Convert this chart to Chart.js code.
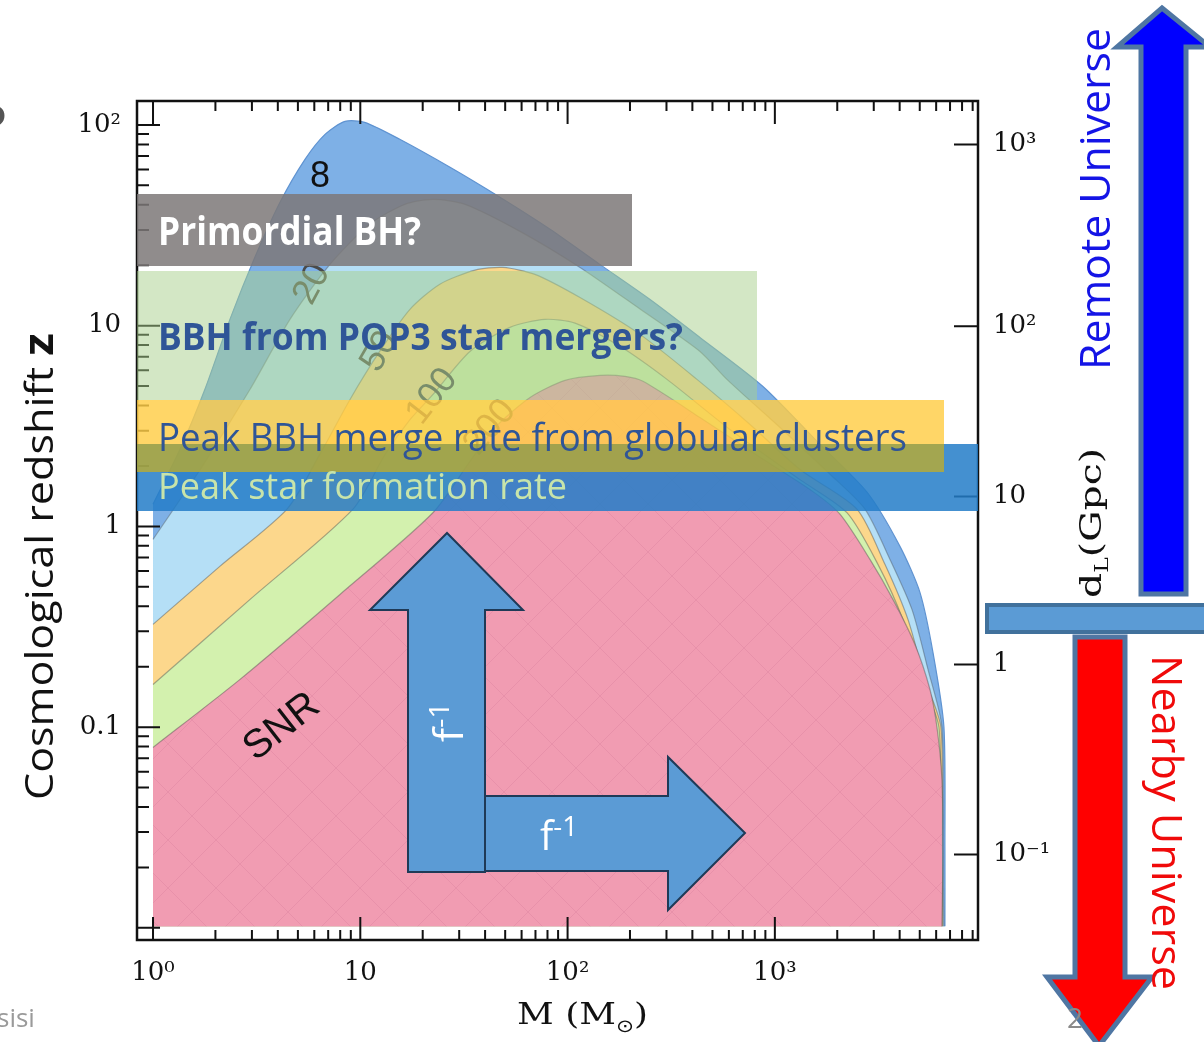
<!DOCTYPE html>
<html>
<head>
<meta charset="utf-8">
<script src="https://cdn.jsdelivr.net/npm/chart.js@4.4.1/dist/chart.umd.min.js"></script>
<style>
html, body { margin: 0; padding: 0; background: #fff; }
#wrap { position: relative; width: 1204px; height: 1042px; overflow: hidden; }
</style>
</head>
<body>
<div id="wrap"><canvas id="chart" width="1204" height="1042"></canvas></div>
<script>
// SNR contours: total mass (Msun) and redshift z along each contour
var snr8Mass = [1.0, 1.35, 1.78, 2.35, 3.10, 4.10, 5.41, 6.76, 8.44, 10.5, 15.5, 27.1, 47.2, 82.3, 143, 250, 435, 876, 1651, 2782, 4013, 5010, 5790, 6541, 6614, 6614];
var snr8Z = [1.29, 2.42, 4.82, 10.75, 21.9, 41.2, 67.4, 89.8, 104.2, 103, 84.8, 61.5, 43.6, 30.2, 20.2, 13.5, 8.74, 4.98, 2.56, 1.48, 0.795, 0.469, 0.236, 0.1, 0.0246, 0.0102];

var snr20Mass = [1.0, 1.69, 2.94, 4.58, 7.14, 11.1, 16.4, 22.4, 32.0, 58.9, 114.8, 223.5, 435, 587, 1058, 1845, 2720, 3592, 4585, 5478, 6397, 6469, 6541];
var snr20Z = [0.861, 1.92, 4.82, 10.75, 20.2, 32.0, 40.2, 42.6, 40.2, 29.5, 19.5, 12.1, 7.44, 5.40, 3.11, 1.82, 1.22, 0.685, 0.386, 0.194, 0.1, 0.0246, 0.0102];

var snr50Mass = [1.0, 2.10, 4.43, 6.39, 8.92, 12.4, 17.4, 24.2, 35.8, 48.8, 69.6, 114.8, 223.5, 421, 759, 1322, 2489, 3397, 4386, 5298, 6326, 6397, 6469];
var snr50Z = [0.325, 0.632, 1.22, 2.29, 4.29, 7.44, 12.1, 16.1, 18.9, 19.5, 18.0, 13.8, 9.05, 5.40, 3.22, 1.92, 1.22, 0.647, 0.344, 0.173, 0.1, 0.0246, 0.0102];

var snr100Mass = [1.0, 2.94, 9.22, 13.2, 17.4, 22.2, 33.8, 52.7, 77.8, 108.6, 178.9, 301.6, 607, 1322, 2227, 3143, 4148, 5123, 6188, 6326, 6397];
var snr100Z = [0.163, 0.433, 1.22, 2.29, 3.41, 4.49, 7.44, 9.81, 10.75, 10.3, 7.89, 5.40, 3.04, 1.71, 1.17, 0.647, 0.344, 0.173, 0.1, 0.0246, 0.0102];

var snr200Mass = [1.0, 2.63, 7.98, 22.4, 33.8, 44.7, 65.9, 97.2, 143.3, 189.2, 231.1, 435, 848, 1527, 2061, 2876, 3712, 4740, 5601, 6053, 6397, 6469, 6397];
var snr200Z = [0.0792, 0.173, 0.458, 1.17, 2.11, 3.11, 4.39, 5.34, 5.65, 5.59, 5.28, 3.49, 2.21, 1.49, 1.15, 0.685, 0.433, 0.258, 0.154, 0.1, 0.0549, 0.0246, 0.0102];

var zFloor = 0.0102;

// axes
var massTicks = [1, 10, 100, 1000];
var massTickLabels = ['10⁰', '10', '10²', '10³'];
var zTicks = [100, 10, 1, 0.1];
var zTickLabels = ['10²', '10', '1', '0.1'];
// luminosity distance ticks on the right, placed at the matching redshift
var dLTicksZ = [80, 9.92, 1.41, 0.205, 0.0232];
var dLTickLabels = ['10³', '10²', '10', '1', '10⁻¹'];

// contour labels: text, mass, z, angle (deg)
var contourText = ['8', '20', '50', '100', '200'];
var contourMass = [6.39, 5.85, 12.4, 22.2, 42.2];
var contourZ = [54.8, 16.1, 7.44, 4.44, 3.11];
var contourAngle = [0, -62, -60, -52, -50];

function toPoints(ms, zs) {
    return ms.map(function (m, i) { return {x: m, y: zs[i]}; });
}

function makePinkPattern() {
    var c = document.createElement('canvas');
    c.width = 48; c.height = 48;
    var g = c.getContext('2d');
    g.fillStyle = '#f19cb2';
    g.fillRect(0, 0, 48, 48);
    g.strokeStyle = 'rgba(200,110,140,0.22)';
    g.lineWidth = 1;
    g.beginPath();
    g.moveTo(0, 48); g.lineTo(48, 0);
    g.moveTo(0, 0); g.lineTo(48, 48);
    g.stroke();
    return g.createPattern(c, 'repeat');
}

function band(label, ms, zs, fillColor, lineColor, order) {
    return {
        label: label,
        data: toPoints(ms, zs),
        backgroundColor: fillColor,
        borderColor: lineColor,
        borderWidth: 1.2,
        pointRadius: 0,
        tension: 0.25,
        fill: {value: zFloor},
        order: order
    };
}

function drawRuns(ctx, runs, x, y, angle, width) {
    ctx.save();
    ctx.translate(x, y);
    ctx.rotate(angle || 0);
    ctx.textBaseline = 'alphabetic';
    ctx.textAlign = 'left';
    var total = 0;
    runs.forEach(function (r) {
        ctx.font = r.font;
        r.w = ctx.measureText(r.text).width;
        total += r.w;
    });
    if (width) ctx.scale(width / total, 1);
    var cx = 0;
    runs.forEach(function (r) {
        ctx.font = r.font;
        ctx.fillStyle = r.color;
        ctx.fillText(r.text, cx, r.dy || 0);
        cx += r.w;
    });
    ctx.restore();
}

function drawCentered(ctx, text, x, y, deg, font, color) {
    ctx.save();
    ctx.translate(x, y);
    ctx.rotate(deg * Math.PI / 180);
    ctx.font = font;
    ctx.fillStyle = color;
    ctx.textAlign = 'center';
    ctx.textBaseline = 'middle';
    ctx.fillText(text, 0, 0);
    ctx.restore();
}

function poly(ctx, pts, fill, stroke, lw) {
    ctx.beginPath();
    ctx.moveTo(pts[0][0], pts[0][1]);
    for (var i = 1; i < pts.length; i++) ctx.lineTo(pts[i][0], pts[i][1]);
    ctx.closePath();
    ctx.fillStyle = fill;
    ctx.fill();
    ctx.lineWidth = lw;
    ctx.strokeStyle = stroke;
    ctx.lineJoin = 'miter';
    ctx.stroke();
}

function drawFrame(ctx, chart) {
    var a = chart.chartArea, sx = chart.scales.x, sy = chart.scales.y;
    ctx.save();
    ctx.strokeStyle = '#111';
    ctx.lineWidth = 2;
    ctx.beginPath();
    for (var d = 0; d <= 3; d++) {
        for (var k = 1; k <= 9; k++) {
            var v = k * Math.pow(10, d);
            if (v < sx.min || v > sx.max) continue;
            var px = sx.getPixelForValue(v);
            var len = k === 1 ? 23 : 10;
            ctx.moveTo(px, a.bottom); ctx.lineTo(px, a.bottom - len);
            ctx.moveTo(px, a.top); ctx.lineTo(px, a.top + len);
        }
    }
    for (d = -2; d <= 2; d++) {
        for (k = 1; k <= 9; k++) {
            v = k * Math.pow(10, d);
            if (v < sy.min || v > sy.max) continue;
            var py = sy.getPixelForValue(v);
            len = k === 1 ? 23 : 12;
            ctx.moveTo(a.left, py); ctx.lineTo(a.left + len, py);
        }
    }
    dLTicksZ.forEach(function (z) {
        var py = sy.getPixelForValue(z);
        ctx.moveTo(a.right, py); ctx.lineTo(a.right - 24, py);
    });
    ctx.stroke();
    ctx.lineWidth = 2.5;
    ctx.strokeRect(a.left, a.top, a.right - a.left, a.bottom - a.top);
    ctx.restore();
}

var overlay = {
    id: 'overlay',
    beforeDraw: function (chart) {
        var c = chart.ctx;
        c.save();
        c.fillStyle = '#fff';
        c.fillRect(0, 0, chart.width, chart.height);
        c.restore();
    },
    afterDraw: function (chart) {
        var ctx = chart.ctx, sx = chart.scales.x, sy = chart.scales.y;

        // contour labels
        contourText.forEach(function (t, i) {
            drawCentered(ctx, t, sx.getPixelForValue(contourMass[i]), sy.getPixelForValue(contourZ[i]),
                contourAngle[i], '36px "Liberation Sans"', i === 0 ? '#111' : '#4a4a4a');
        });
        drawCentered(ctx, 'SNR', sx.getPixelForValue(4.19), sy.getPixelForValue(0.1), -38, '40px "Liberation Sans"', '#111');

        drawFrame(ctx, chart);

        // slide annotations
        ctx.save();
        ctx.fillStyle = 'rgba(125,120,120,0.85)';
        ctx.fillRect(137, 194, 495, 72);
        ctx.fillStyle = 'rgba(167,207,139,0.5)';
        ctx.fillRect(137, 271, 620, 129);
        ctx.fillStyle = 'rgba(35,125,200,0.85)';
        ctx.fillRect(137, 444, 841, 67);
        ctx.fillStyle = 'rgba(255,205,70,0.82)';
        ctx.fillRect(137, 400, 807, 44);
        ctx.fillStyle = 'rgba(200,175,30,0.72)';
        ctx.fillRect(137, 444, 807, 28);
        ctx.restore();

        drawRuns(ctx, [{text: 'Primordial BH?', font: 'bold 39px "Open Sans"', color: '#fff'}], 158, 245, 0, 263);
        drawRuns(ctx, [{text: 'BBH from POP3 star mergers?', font: 'bold 38px "Open Sans"', color: '#2f5597'}], 158, 350, 0, 525);
        drawRuns(ctx, [{text: 'Peak BBH merge rate from globular clusters', font: '38px "Open Sans"', color: '#2f5597'}], 158, 451, 0, 749);
        drawRuns(ctx, [{text: 'Peak star formation rate', font: '36px "Open Sans"', color: '#c8e4aa'}], 158, 499, 0, 409);

        // L-shaped f^-1 arrows
        ctx.save();
        poly(ctx, [[408, 872], [408, 610], [370, 610], [447, 533], [523, 610], [485, 610], [485, 872]], '#5b9bd5', '#1f3a57', 2);
        poly(ctx, [[485, 796], [668, 796], [668, 757], [745, 833], [668, 910], [668, 871], [485, 871]], '#5b9bd5', '#1f3a57', 2);
        ctx.restore();
        drawRuns(ctx, [
            {text: 'f', font: '40px "Open Sans"', color: '#fff'},
            {text: '-1', font: '28px "Open Sans"', color: '#fff', dy: -14}
        ], 463, 742, -Math.PI / 2, 40);
        drawRuns(ctx, [
            {text: 'f', font: '40px "Open Sans"', color: '#fff'},
            {text: '-1', font: '28px "Open Sans"', color: '#fff', dy: -14}
        ], 540, 850, 0, 38);

        // right side: remote / nearby arrows
        ctx.save();
        poly(ctx, [[1162, 8], [1210, 47], [1186, 47], [1186, 594], [1141, 594], [1141, 47], [1117, 47]], '#0000ff', '#4f76a3', 5);
        poly(ctx, [[1075, 637], [1125, 637], [1125, 977], [1152, 977], [1099, 1046], [1047, 977], [1075, 977]], '#ff0000', '#4f76a3', 5);
        ctx.fillStyle = '#5b9bd5';
        ctx.strokeStyle = '#41719c';
        ctx.lineWidth = 4;
        ctx.fillRect(987, 605, 230, 27);
        ctx.strokeRect(987, 605, 230, 27);
        ctx.restore();

        drawRuns(ctx, [{text: 'Remote Universe', font: '42px "Open Sans"', color: '#1414e6'}], 1110, 370, -Math.PI / 2, 342);
        drawRuns(ctx, [{text: 'Nearby Universe', font: '42px "Open Sans"', color: '#f00a0a'}], 1152, 655, Math.PI / 2, 335);
        drawRuns(ctx, [
            {text: 'd', font: '30px "DejaVu Serif"', color: '#111'},
            {text: 'L', font: '18px "DejaVu Serif"', color: '#111', dy: 7},
            {text: '(Gpc)', font: '30px "DejaVu Serif"', color: '#111'}
        ], 1101, 598, -Math.PI / 2, 150);

        // axis titles
        drawRuns(ctx, [
            {text: 'Cosmological redshift ', font: '39px "Open Sans"', color: '#111'},
            {text: 'z', font: 'bold 42px "Open Sans"', color: '#111'}
        ], 53, 800, -Math.PI / 2, 467);
        drawRuns(ctx, [
            {text: 'M (M', font: '30px "DejaVu Serif"', color: '#111'},
            {text: '⊙', font: '18px "DejaVu Sans"', color: '#111', dy: 8},
            {text: ')', font: '30px "DejaVu Serif"', color: '#111'}
        ], 517, 1024, 0, 131);

        // slide leftovers
        drawRuns(ctx, [{text: 'sisi', font: '26px "Open Sans"', color: '#9a9a9a'}], -3, 1027, 0, 0);
        drawRuns(ctx, [{text: '2', font: '28px "Open Sans"', color: '#8a8a8a'}], 1067, 1028, 0, 0);
        drawRuns(ctx, [{text: '?', font: '58px "Open Sans"', color: '#555'}], -19, 148, 0, 0);
    }
};

var tickFont = {family: '"DejaVu Serif", serif', size: 26};

new Chart(document.getElementById('chart'), {
    type: 'line',
    data: {
        datasets: [
            band('SNR 8', snr8Mass, snr8Z, '#7eb0e6', '#5f93d1', 5),
            band('SNR 20', snr20Mass, snr20Z, '#b5dff6', 'rgba(80,90,100,0.45)', 4),
            band('SNR 50', snr50Mass, snr50Z, '#fcd78c', 'rgba(80,80,80,0.45)', 3),
            band('SNR 100', snr100Mass, snr100Z, '#d3f1ae', 'rgba(80,80,80,0.45)', 2),
            band('SNR 200', snr200Mass, snr200Z, makePinkPattern(), 'rgba(80,80,80,0.45)', 1)
        ]
    },
    options: {
        responsive: false,
        animation: false,
        devicePixelRatio: 1,
        layout: {padding: {top: 101, left: 0, right: 0, bottom: 0}},
        plugins: {legend: {display: false}, tooltip: {enabled: false}},
        scales: {
            x: {
                type: 'logarithmic',
                position: 'bottom',
                min: 0.837,
                max: 9550,
                bounds: 'data',
                grid: {display: false},
                border: {display: false},
                afterBuildTicks: function (s) { s.ticks = massTicks.map(function (v) { return {value: v}; }); },
                afterFit: function (s) { s.height = 102; },
                ticks: {
                    autoSkip: false, maxRotation: 0, padding: 10, color: '#111', font: tickFont,
                    callback: function (v, i) { return massTickLabels[i]; }
                }
            },
            y: {
                type: 'logarithmic',
                position: 'left',
                min: 0.0087,
                max: 131.6,
                bounds: 'data',
                grid: {display: false},
                border: {display: false},
                afterBuildTicks: function (s) { s.ticks = zTicks.map(function (v) { return {value: v}; }); },
                afterFit: function (s) { s.width = 137; },
                ticks: {
                    autoSkip: false, padding: 8, color: '#111', font: tickFont,
                    callback: function (v, i) { return zTickLabels[i]; }
                }
            },
            y2: {
                type: 'logarithmic',
                position: 'right',
                min: 0.0087,
                max: 131.6,
                bounds: 'data',
                grid: {display: false},
                border: {display: false},
                afterBuildTicks: function (s) { s.ticks = dLTicksZ.map(function (v) { return {value: v}; }); },
                afterFit: function (s) { s.width = 226; },
                ticks: {
                    autoSkip: false, padding: 7, color: '#111', font: tickFont,
                    callback: function (v, i) { return dLTickLabels[i]; }
                }
            }
        }
    },
    plugins: [overlay]
});
</script>
</body>
</html>
